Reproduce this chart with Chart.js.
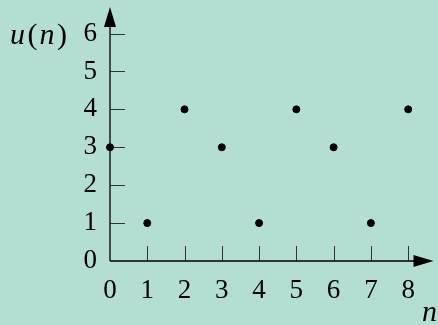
<!DOCTYPE html>
<html lang="en">
<head>
  <meta charset="UTF-8">
  <title>u(n)</title>
  <script src="https://cdn.jsdelivr.net/npm/chart.js"></script>
  <style>
    body { margin: 0; background: #b4ded2; }
    #wrap { width: 438px; height: 325px; }
  </style>
</head>
<body>
  <div id="wrap"><canvas id="seqChart" width="438" height="325"></canvas></div>

  <script>
    // values
    const nValues = [0, 1, 2, 3, 4, 5, 6, 7, 8];
    const uValues = [3, 1, 4, 3, 1, 4, 3, 1, 4];
    const xTicks = [0, 1, 2, 3, 4, 5, 6, 7, 8];
    const yTicks = [0, 1, 2, 3, 4, 5, 6];
    const xLabel = 'n';
    const yLabel = ['u', '(', 'n', ')']; // math style: letters italic, brackets upright

    const fontFamily = '"Liberation Serif", "DejaVu Serif", serif';

    // axes with inward ticks and arrow heads
    const axesPlugin = {
      id: 'axes',
      beforeDatasetsDraw(chart) {
        const ctx = chart.ctx;
        const a = chart.chartArea;
        const xs = chart.scales.x, ys = chart.scales.y;
        const x0 = xs.getPixelForValue(0), y0 = ys.getPixelForValue(0);
        ctx.save();
        // ticks
        ctx.strokeStyle = '#333';
        ctx.lineWidth = 1;
        ctx.beginPath();
        xTicks.forEach(v => {
          if (v === 0) return;
          const px = Math.round(xs.getPixelForValue(v)) + 0.5;
          ctx.moveTo(px, y0); ctx.lineTo(px, y0 - 15);
        });
        yTicks.forEach(v => {
          if (v === 0) return;
          const py = Math.round(ys.getPixelForValue(v)) + 0.5;
          ctx.moveTo(x0, py); ctx.lineTo(x0 + 15, py);
        });
        ctx.stroke();
        // axis lines
        ctx.strokeStyle = '#000';
        ctx.lineWidth = 1.3;
        ctx.beginPath();
        ctx.moveTo(x0, y0); ctx.lineTo(a.right - 10, y0);
        ctx.moveTo(x0, y0); ctx.lineTo(x0, a.top + 10);
        ctx.stroke();
        // arrows
        ctx.fillStyle = '#000';
        ctx.beginPath();
        ctx.moveTo(a.right, y0); ctx.lineTo(a.right - 20, y0 - 6); ctx.lineTo(a.right - 20, y0 + 6);
        ctx.closePath(); ctx.fill();
        ctx.beginPath();
        ctx.moveTo(x0, a.top); ctx.lineTo(x0 - 6, a.top + 20); ctx.lineTo(x0 + 6, a.top + 20);
        ctx.closePath(); ctx.fill();
        ctx.restore();
      },
      afterDraw(chart) {
        const ctx = chart.ctx;
        const ys = chart.scales.y;
        ctx.save();
        ctx.fillStyle = '#000';
        ctx.textBaseline = 'alphabetic';
        ctx.textAlign = 'left';
        let x = 10;
        const base = ys.getPixelForValue(6) + 10;
        yLabel.forEach(part => {
          const upright = part === '(' || part === ')';
          ctx.font = (upright ? '' : 'italic ') + '30px ' + fontFamily;
          ctx.fillText(part, x, base);
          x += ctx.measureText(part).width + (upright ? 2 : 2.5);
        });
        ctx.font = 'italic 30px ' + fontFamily;
        ctx.textAlign = 'right';
        ctx.fillText(xLabel, 437, 321);
        ctx.restore();
      }
    };

    const ctx = document.getElementById('seqChart').getContext('2d');
    new Chart(ctx, {
      type: 'scatter',
      data: {
        datasets: [{
          data: nValues.map((n, i) => ({ x: n, y: uValues[i] })),
          backgroundColor: '#000',
          borderColor: '#000',
          pointRadius: 3.5,
          pointHoverRadius: 3.5,
          clip: false
        }]
      },
      options: {
        responsive: false,
        animation: false,
        events: [],
        layout: { padding: { top: 7, right: 0, left: 0, bottom: 0 } },
        plugins: { legend: { display: false }, tooltip: { enabled: false } },
        scales: {
          x: {
            type: 'linear',
            min: 0,
            max: 8.68,
            grid: { display: false, drawTicks: false },
            border: { display: false },
            afterBuildTicks: s => { s.ticks = xTicks.map(v => ({ value: v })); },
            afterFit: s => { s.height = 64; s.paddingLeft = 0; s.paddingRight = 0; },
            ticks: { color: '#000', padding: 14, maxRotation: 0, autoSkip: false,
                     font: { family: fontFamily, size: 27 } }
          },
          y: {
            type: 'linear',
            min: 0,
            max: 6.7,
            grid: { display: false, drawTicks: false },
            border: { display: false },
            afterBuildTicks: s => { s.ticks = yTicks.map(v => ({ value: v })); },
            afterFit: s => { s.width = 110; s.paddingTop = 0; s.paddingBottom = 0; },
            ticks: { color: '#000', padding: 13, autoSkip: false,
                     font: { family: fontFamily, size: 27 } }
          }
        }
      },
      plugins: [axesPlugin]
    });
  </script>
</body>
</html>
